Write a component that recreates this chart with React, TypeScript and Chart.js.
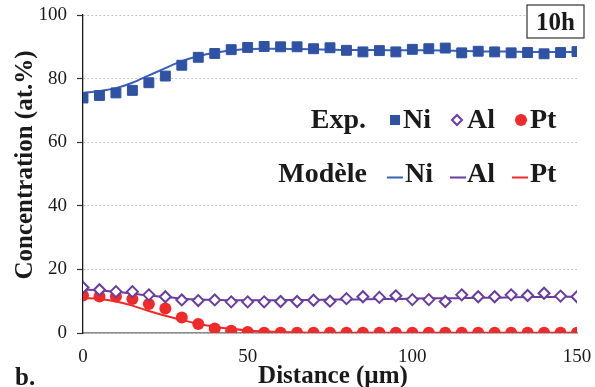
import React, { useEffect, useRef } from 'react';
import { Chart, registerables } from 'chart.js';

Chart.register(...registerables);

const distance = [0, 5, 10, 15, 20, 25, 30, 35, 40, 45, 50, 55, 60, 65, 70, 75, 80, 85, 90, 95, 100, 105, 110, 115, 120, 125, 130, 135, 140, 145, 150];

const niExp = [73.9, 74.7, 75.5, 76.3, 78.7, 80.8, 84.2, 86.7, 87.9, 89.1, 89.8, 90.1, 90.0, 90.0, 89.4, 89.7, 88.9, 88.4, 88.8, 88.4, 89.2, 89.4, 89.6, 88.1, 88.6, 88.4, 88.1, 88.2, 87.8, 88.2, 88.5];
const alExp = [14.3, 13.6, 13.0, 13.0, 12.0, 11.4, 10.4, 10.2, 10.4, 9.8, 9.8, 9.8, 9.9, 9.9, 10.3, 10.0, 10.8, 11.4, 11.2, 11.7, 10.5, 10.5, 9.9, 12.0, 11.4, 11.4, 12.0, 11.8, 12.5, 11.6, 11.4];
const ptExp = [11.8, 11.5, 11.5, 10.7, 9.1, 7.7, 4.9, 2.8, 1.4, 0.7, 0.3, 0.1, 0.1, 0.1, 0.1, 0.1, 0.1, 0.1, 0.1, 0.1, 0.1, 0.1, 0.1, 0.1, 0.1, 0.1, 0.1, 0.1, 0.1, 0.1, 0.1];

const niModel = [75.5, 76.1, 77.0, 78.7, 81.0, 83.3, 85.5, 87.0, 88.1, 88.8, 89.3, 89.4, 89.4, 89.3, 89.2, 89.1, 89.0, 89.0, 89.0, 88.9, 88.9, 88.9, 88.8, 88.7, 88.6, 88.5, 88.5, 88.4, 88.4, 88.4, 88.4];
const alModel = [13.7, 13.4, 13.0, 12.4, 11.8, 11.3, 10.8, 10.5, 10.4, 10.3, 10.3, 10.3, 10.3, 10.4, 10.4, 10.5, 10.5, 10.6, 10.7, 10.7, 10.8, 10.9, 10.9, 11.0, 11.1, 11.1, 11.2, 11.3, 11.3, 11.4, 11.4];
const ptModel = [11.0, 10.7, 9.9, 8.6, 6.9, 5.4, 4.1, 2.9, 2.0, 1.3, 0.8, 0.5, 0.3, 0.2, 0.1, 0.1, 0.1, 0.1, 0.1, 0.1, 0.1, 0.1, 0.1, 0.1, 0.1, 0.1, 0.1, 0.1, 0.1, 0.1, 0.1];

const xTicks = [0, 50, 100, 150];
const yTicks = [0, 20, 40, 60, 80, 100];
const elements = ['Ni', 'Al', 'Pt'];

const NI = '#2f52a4';
const NI_LINE = '#3b5fb6';
const AL = '#6a3d9e';
const PT = '#ee2a2a';
const SERIF = '"Liberation Serif", "Times New Roman", serif';

const decorPlugin = {
  id: 'decor',
  afterDraw(chart: any) {
    const ctx = chart.ctx as CanvasRenderingContext2D;
    ctx.save();
    ctx.fillStyle = '#1a1a1a';
    // Y title
    ctx.save();
    ctx.translate(26, 165);
    ctx.rotate(-Math.PI / 2);
    ctx.font = `bold 25px ${SERIF}`;
    ctx.textAlign = 'center';
    ctx.textBaseline = 'middle';
    ctx.fillText('Concentration (at.%)', 0, 0);
    ctx.restore();
    // X title
    ctx.font = `bold 25px ${SERIF}`;
    ctx.textAlign = 'center';
    ctx.textBaseline = 'alphabetic';
    ctx.fillText('Distance (µm)', 333, 383);
    // b.
    ctx.font = `bold 25px ${SERIF}`;
    ctx.textAlign = 'left';
    ctx.fillText('b.', 15, 385);
    // 10h box
    ctx.fillStyle = '#ffffff';
    ctx.fillRect(527, 5, 57, 33);
    ctx.strokeStyle = '#333';
    ctx.lineWidth = 1.2;
    ctx.strokeRect(527, 5, 57, 33);
    ctx.fillStyle = '#1a1a1a';
    ctx.font = `bold 25px ${SERIF}`;
    ctx.textAlign = 'center';
    ctx.fillText('10h', 555.5, 30);

    // Legend
    const ds = chart.data.datasets;
    ctx.font = `bold 28px ${SERIF}`;
    ctx.textAlign = 'right';
    ctx.fillText('Exp.', 366, 128);
    ctx.fillText('Modèle', 367, 182);
    ctx.textAlign = 'left';
    const markerX = [395, 457, 521];
    const textX = [403, 467, 530];
    for (let i = 0; i < 3; i++) {
      const d = ds[i];
      const cx = markerX[i];
      const cy = 120;
      ctx.beginPath();
      if (d.pointStyle === 'rect') {
        ctx.rect(cx - 5, cy - 5, 10, 10);
      } else if (d.pointStyle === 'rectRot') {
        ctx.moveTo(cx - 5, cy);
        ctx.lineTo(cx, cy - 5);
        ctx.lineTo(cx + 5, cy);
        ctx.lineTo(cx, cy + 5);
        ctx.closePath();
      } else {
        ctx.arc(cx, cy, 6, 0, Math.PI * 2);
      }
      ctx.fillStyle = d.pointBackgroundColor;
      ctx.fill();
      if (d.pointStyle === 'rectRot') {
        ctx.lineWidth = 2;
        ctx.strokeStyle = d.pointBorderColor;
        ctx.stroke();
      }
      ctx.fillStyle = '#1a1a1a';
      ctx.fillText(elements[i], textX[i], 128);
    }
    const lineX = [387, 450, 512];
    const textX2 = [405, 467, 530];
    for (let i = 0; i < 3; i++) {
      const d = ds[i + 3];
      ctx.beginPath();
      ctx.moveTo(lineX[i], 177.5);
      ctx.lineTo(lineX[i] + 16, 177.5);
      ctx.strokeStyle = d.borderColor;
      ctx.lineWidth = 2;
      ctx.stroke();
      ctx.fillStyle = '#1a1a1a';
      ctx.fillText(elements[i], textX2[i], 182);
    }
    ctx.restore();
  },
};

export default function App() {
  const ref = useRef<HTMLCanvasElement>(null);
  useEffect(() => {
    if (!ref.current) return;
    const mk = (arr: number[]) => distance.map((x, i) => ({ x, y: arr[i] }));
    const chart = new Chart(ref.current, {
      type: 'scatter',
      data: {
        datasets: [
          { label: 'Exp. Ni', data: mk(niExp), pointStyle: 'rect', pointRadius: 7, pointBackgroundColor: NI, pointBorderColor: NI, pointBorderWidth: 1, showLine: false },
          { label: 'Exp. Al', data: mk(alExp), pointStyle: 'rectRot', pointRadius: 5.5, pointBackgroundColor: '#ffffff', pointBorderColor: AL, pointBorderWidth: 2, showLine: false },
          { label: 'Exp. Pt', data: mk(ptExp), pointStyle: 'circle', pointRadius: 6, pointBackgroundColor: PT, pointBorderColor: PT, pointBorderWidth: 0, showLine: false },
          { label: 'Modèle Ni', data: mk(niModel), showLine: true, borderColor: NI_LINE, borderWidth: 2, pointRadius: 0, tension: 0.4, cubicInterpolationMode: 'monotone' },
          { label: 'Modèle Al', data: mk(alModel), showLine: true, borderColor: AL, borderWidth: 2, pointRadius: 0, tension: 0.4, cubicInterpolationMode: 'monotone' },
          { label: 'Modèle Pt', data: mk(ptModel), showLine: true, borderColor: PT, borderWidth: 2, pointRadius: 0, tension: 0.4, cubicInterpolationMode: 'monotone' },
        ] as any,
      },
      options: {
        animation: false,
        responsive: true,
        maintainAspectRatio: false,
        layout: { padding: { left: 0, top: 15, right: 18, bottom: 0 } },
        plugins: { legend: { display: false }, tooltip: { enabled: false } },
        scales: {
          x: {
            type: 'linear',
            min: 0,
            max: 150,
            afterBuildTicks: (s: any) => { s.ticks = xTicks.map((v) => ({ value: v })); },
            afterFit: (s: any) => { s.height = 54; s.paddingLeft = 0; s.paddingRight = 0; },
            ticks: { color: '#1a1a1a', font: { family: SERIF, size: 19 }, padding: 13, maxRotation: 0 },
            grid: { display: false, drawTicks: false },
            border: { display: true, color: '#8a8a8a', width: 1.6 },
          },
          y: {
            min: 0,
            max: 100,
            afterBuildTicks: (s: any) => { s.ticks = yTicks.map((v) => ({ value: v })); },
            afterFit: (s: any) => { s.width = 83; s.paddingTop = 0; s.paddingBottom = 0; },
            ticks: { color: '#1a1a1a', font: { family: SERIF, size: 19 }, padding: 10 },
            grid: { color: '#c4c4c4', lineWidth: 1, drawTicks: true, tickLength: 6, tickColor: '#333', tickBorderDash: [], tickWidth: 1.2 },
            border: { display: true, color: '#1a1a1a', width: 1.3, dash: [2, 2] },
          },
        },
      } as any,
      plugins: [decorPlugin],
    });
    return () => chart.destroy();
  }, []);
  return (
    <div style={{ position: 'fixed', left: 0, top: 0, width: 595, height: 387, background: '#fff' }}>
      <canvas ref={ref} />
    </div>
  );
}
